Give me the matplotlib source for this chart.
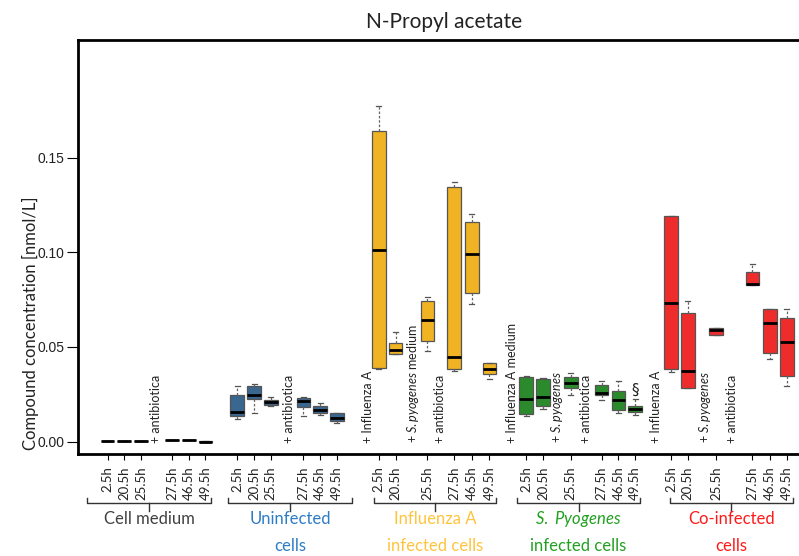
import matplotlib
matplotlib.use("Agg")
import matplotlib.pyplot as plt
import matplotlib.transforms as mtransforms

plt.rcParams['mathtext.fontset'] = 'custom'
plt.rcParams['mathtext.it'] = 'Lato:italic'
plt.rcParams['mathtext.rm'] = 'Lato'

# sampling time points, same for every group
timepoints = ["2.5h", "20.5h", "25.5h", "27.5h", "46.5h", "49.5h"]

# box statistics per time point: (whisker low, Q1, median, Q3, whisker high) in nmol/L
cell_medium = [(0.0002, 0.0002, 0.0003, 0.0004, 0.0004),
               (0.0002, 0.0002, 0.0003, 0.0004, 0.0004),
               (0.0002, 0.0002, 0.0003, 0.0004, 0.0004),
               (0.0008, 0.0008, 0.0009, 0.0010, 0.0010),
               (0.0008, 0.0008, 0.0009, 0.0010, 0.0010),
               (-0.0002, -0.0002, 0.0000, 0.0002, 0.0002)]
uninfected = [(0.0118, 0.0137, 0.0158, 0.0248, 0.0292),
              (0.0150, 0.0227, 0.0248, 0.0292, 0.0306),
              (0.0188, 0.0192, 0.0208, 0.0220, 0.0237),
              (0.0135, 0.0181, 0.0213, 0.0230, 0.0236),
              (0.0139, 0.0153, 0.0169, 0.0190, 0.0206),
              (0.0097, 0.0110, 0.0125, 0.0150, 0.0152)]
influenza = [(0.0382, 0.0391, 0.1011, 0.1642, 0.1774),
             (0.0461, 0.0461, 0.0483, 0.0523, 0.0579),
             (0.0480, 0.0530, 0.0641, 0.0745, 0.0766),
             (0.0375, 0.0385, 0.0446, 0.1346, 0.1372),
             (0.0727, 0.0787, 0.0990, 0.1159, 0.1203),
             (0.0331, 0.0356, 0.0385, 0.0414, 0.0414)]
pyogenes = [(0.0134, 0.0144, 0.0227, 0.0340, 0.0348),
            (0.0174, 0.0188, 0.0236, 0.0331, 0.0338),
            (0.0246, 0.0282, 0.0310, 0.0340, 0.0361),
            (0.0221, 0.0248, 0.0259, 0.0298, 0.0320),
            (0.0150, 0.0169, 0.0221, 0.0269, 0.0319),
            (0.0142, 0.0155, 0.0172, 0.0187, 0.0224)]
coinfected = [(0.0370, 0.0382, 0.0731, 0.1191, 0.1193),
              (0.0285, 0.0285, 0.0373, 0.0678, 0.0740),
              (0.0565, 0.0565, 0.0590, 0.0600, 0.0600),
              (0.0826, 0.0826, 0.0831, 0.0895, 0.0937),
              (0.0435, 0.0470, 0.0627, 0.0699, 0.0702),
              (0.0294, 0.0348, 0.0528, 0.0652, 0.0702)]

group_line1 = ["Cell medium", "Uninfected", "Influenza A", r"$\mathit{S.\ Pyogenes}$", "Co-infected"]
group_line2 = ["", "cells", "infected cells", "infected cells", "cells"]

# treatment notes written inside the plot
notes_cm = ["+ antibiotica"]
notes_un = ["+ antibiotica"]
notes_ia = ["+ Influenza A", r"+ $\mathit{S.pyogenes}$ medium", "+ antibiotica"]
notes_sp = ["+ Influenza A medium", r"+ $\mathit{S.pyogenes}$", "+ antibiotica"]
notes_co = ["+ Influenza A", r"+ $\mathit{S.pyogenes}$", "+ antibiotica"]

# layout: slot positions along x
pos_cm = [1.0, 2.0, 3.0, 4.85, 5.85, 6.85]
pos_un = [8.75, 9.75, 10.75, 12.7, 13.7, 14.7]
pos_ia = [17.2, 18.2, 20.1, 21.7, 22.75, 23.8]
pos_sp = [26.0, 27.0, 28.65, 30.5, 31.5, 32.5]
pos_co = [34.65, 35.65, 37.35, 39.5, 40.55, 41.55]
note_x = [[3.88], [11.84], [16.55, 19.24, 20.85], [25.13, 27.82, 29.55], [33.74, 36.66, 38.28]]
brackets = [(-0.2, 7.2), (8.2, 15.6), (16.9, 24.2), (25.45, 32.8), (34.6, 41.9)]

box_colors = ["black", "#3A6790", "#F0B323", "#2B8A2B", "#EE2C2C"]
text_colors = ["#404040", "#2E7CC6", "#FFC43D", "#22A022", "#FF1A1A"]

fig = plt.figure(figsize=(7.99, 5.56), dpi=100)
ax = fig.add_axes([78 / 799, 1 - 454 / 556, 721 / 799, 414 / 556])

all_data = [cell_medium, uninfected, influenza, pyogenes, coinfected]
all_pos = [pos_cm, pos_un, pos_ia, pos_sp, pos_co]
all_notes = [notes_cm, notes_un, notes_ia, notes_sp, notes_co]

for data, pos, col in zip(all_data, all_pos, box_colors):
    stats = [dict(whislo=a, q1=b, med=c, q3=d, whishi=e) for a, b, c, d, e in data]
    ax.bxp(stats, positions=pos, widths=0.82, patch_artist=True, showfliers=False,
           boxprops=dict(facecolor=col, edgecolor="#555555", linewidth=0.9),
           medianprops=dict(color="black", linewidth=2),
           whiskerprops=dict(color="#666666", linestyle=(0, (2, 1.5)), linewidth=0.9),
           capprops=dict(color="#555555", linewidth=0.9),
           capwidths=0.3, manage_ticks=False)

for notes, xs in zip(all_notes, note_x):
    for txt, x in zip(notes, xs):
        ax.text(x, -0.0008, txt, rotation=90, ha="center", va="bottom",
                fontsize=9, family="Lato", color="#222222")

ax.text(pos_sp[-1], 0.0273, "§", ha="center", va="center", fontsize=11, color="#222222")

ax.set_xlim((78 - 90.75) / 16.75, (799 - 90.75) / 16.75)
ax.set_ylim(-0.0066, 0.2122)

ticks = pos_cm + pos_un + pos_ia + pos_sp + pos_co
ax.set_xticks(ticks)
ax.set_xticklabels(timepoints * 5, rotation=90, fontsize=9.5, family="Lato", color="#222222")
ax.tick_params(axis="x", length=4, width=0.8, pad=5)

ax.set_yticks([0, 0.05, 0.10, 0.15])
ax.set_yticklabels(["0.00", "0.05", "0.10", "0.15"], fontsize=10, family="Liberation Sans", color="#222222")
ax.tick_params(axis="y", length=8, width=0.8, pad=2)

ax.set_ylabel("Compound concentration [nmol/L]", fontsize=12, family="Lato", color="#222222")
ax.yaxis.set_label_coords(-0.054, 0.316)

for s in ["top", "left", "bottom"]:
    ax.spines[s].set_linewidth(2)
ax.spines["right"].set_visible(False)

fig.text(444 / 799, 1 - 22 / 556, "N-Propyl acetate", ha="center", va="center",
         fontsize=15, family="Lato", color="#222222")

# curly-style brackets under each group
trans = mtransforms.blended_transform_factory(ax.transData, fig.transFigure)
y_line = 1 - 503 / 556
y_up = 1 - 498 / 556
y_down = 1 - 511 / 556
for (x0, x1), l1, l2, tc in zip(brackets, group_line1, group_line2, text_colors):
    xm = (x0 + x1) / 2
    ax.plot([x0, x0, x1, x1], [y_up, y_line, y_line, y_up], color="#333333", lw=1,
            transform=trans, clip_on=False)
    ax.plot([xm, xm], [y_line, y_down], color="#333333", lw=1, transform=trans, clip_on=False)
    ax.text(xm, 1 - 519 / 556, l1, ha="center", va="center", fontsize=12, family="Lato",
            color=tc, transform=trans)
    if l2:
        ax.text(xm, 1 - 546 / 556, l2, ha="center", va="center", fontsize=12, family="Lato",
                color=tc, transform=trans)

fig.savefig("out.png", dpi=100)
